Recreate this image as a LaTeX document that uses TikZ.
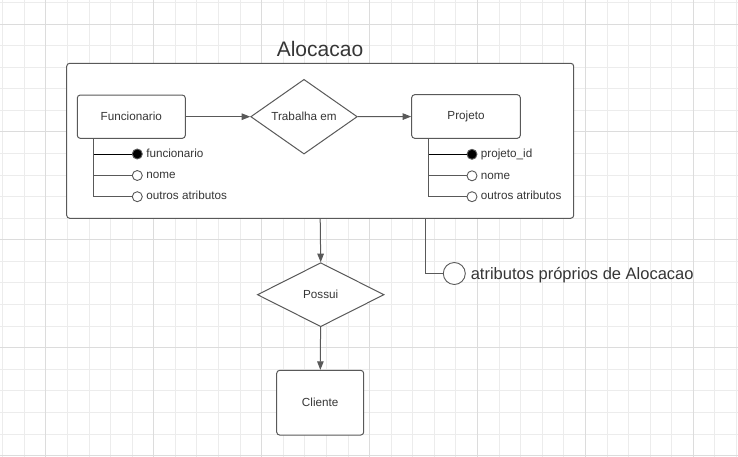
\documentclass[tikz,border=0pt]{standalone}
\usepackage{fontspec}
\setmainfont{Liberation Sans}
\usepackage{tikz}
\usetikzlibrary{shapes.geometric, arrows.meta, positioning}
\usepackage{xcolor}
\definecolor{linegray}{HTML}{595959}
\definecolor{textgray}{HTML}{363636}
\definecolor{gridlight}{HTML}{ECECEC}
\definecolor{griddark}{HTML}{DCDCDC}

\begin{document}
\begin{tikzpicture}[x=1pt, y=-1pt, color=linegray, text=textgray, line width=1pt,
		>={Triangle[length=8.5pt,width=6.5pt]},
		gridline/.style={draw=gridlight, line width=0.9pt},
		gridmajor/.style={draw=griddark, line width=0.9pt},
		ent/.style={rectangle, draw, fill=white, rounded corners=3pt, inner sep=3pt, font=\fontsize{11.7}{14}\selectfont},
		rel/.style={diamond, draw, fill=white, inner sep=0pt, font=\fontsize{11.7}{14}\selectfont},
		attr/.style={circle, draw, fill=white, inner sep=0pt, minimum size=10pt, line width=0.9pt},
		keyattr/.style={attr, fill=black},
		attrtext/.style={inner sep=0pt, text height=8.4pt, text depth=1.8pt, font=\fontsize{11.7}{14}\selectfont},
		attrline/.style={line width=0.8pt}]
		\useasboundingbox (0,0) rectangle (738,457);
		\fill[white] (0,0) rectangle (738,457);
		\foreach \i in {0,...,34} \draw[gridline] ({2.7+21.58*\i},0) -- ({2.7+21.58*\i},457);
		\foreach \j in {0,...,21} \draw[gridline] (0,{2.4+21.58*\j}) -- (738,{2.4+21.58*\j});
		\foreach \i in {2,7,...,32} \draw[gridmajor] ({2.7+21.58*\i},0) -- ({2.7+21.58*\i},457);
		\foreach \j in {1,6,...,21} \draw[gridmajor] (0,{2.4+21.58*\j}) -- (738,{2.4+21.58*\j});

		\draw (320,56.7) node[anchor=base, inner sep=0pt, font=\fontsize{21}{25}\selectfont] (title){Alocacao}
		(320.2,140.8) node[ent, minimum width=507pt, minimum height=155pt] (aloc){}
		(131.3,116.7) node[ent, minimum width=108pt, minimum height=43.3pt] (fun){Funcionario}
		(304,116.7) node[rel, minimum width=106.6pt, minimum height=74.7pt] (trab){Trabalha em}
		(466,116.5) node[ent, minimum width=108.6pt, minimum height=43.6pt] (proj){Projeto}
		(137.3,154) node[keyattr] (fa1){}
		(137.3,175.5) node[attr] (fa2){}
		(137.3,196.7) node[attr] (fa3){}
		(472,154.3) node[keyattr] (pa1){}
		(472,175.8) node[attr] (pa2){}
		(472,196.7) node[attr] (pa3){}
		(454.3,273.5) node[attr, minimum size=22pt] (oattr){}
		(320.7,294.7) node[rel, minimum width=126.7pt, minimum height=64pt] (poss){Possui}
		(320.2,402.7) node[ent, minimum width=87pt, minimum height=64.7pt] (cli){Cliente};

		\node[attrtext, right=3pt of fa1] (fa1t) {funcionario};
		\node[attrtext, right=3pt of fa2] (fa2t) {nome};
		\node[attrtext, right=3pt of fa3] (fa3t) {outros atributos};
		\node[attrtext, right=3pt of pa1] (pa1t) {projeto\_id};
		\node[attrtext, right=3pt of pa2] (pa2t) {nome};
		\node[attrtext, right=3pt of pa3] (pa3t) {outros atributos};
		\node[inner sep=0pt, text height=12pt, text depth=1pt, font=\fontsize{16.5}{20}\selectfont, right=4.5pt of oattr] (oattrt) {atributos próprios de Alocacao};

		\coordinate (fbar) at ([xshift=17pt]fun.south west);
		\coordinate (pbar) at ([xshift=17.6pt]proj.south west);

		\draw[->] (fun) -- (trab);
		\draw[->] (trab) -- (proj);
		\draw[->] (aloc.south) -- (poss.north);
		\draw[->] (poss) -- (cli);
		\draw[attrline] (fbar) |- (fa3);
		\draw[attrline] (fbar |- fa2) -- (fa2);
		\draw[attrline, black] (fbar |- fa1) -- (fa1);
		\draw[attrline] (pbar) |- (pa3);
		\draw[attrline] (pbar |- pa2) -- (pa2);
		\draw[attrline, black] (pbar |- pa1) -- (pa1);
		\draw[attrline] ([xshift=105.5pt]aloc.south) |- (oattr);
	\end{tikzpicture}
\end{document}
